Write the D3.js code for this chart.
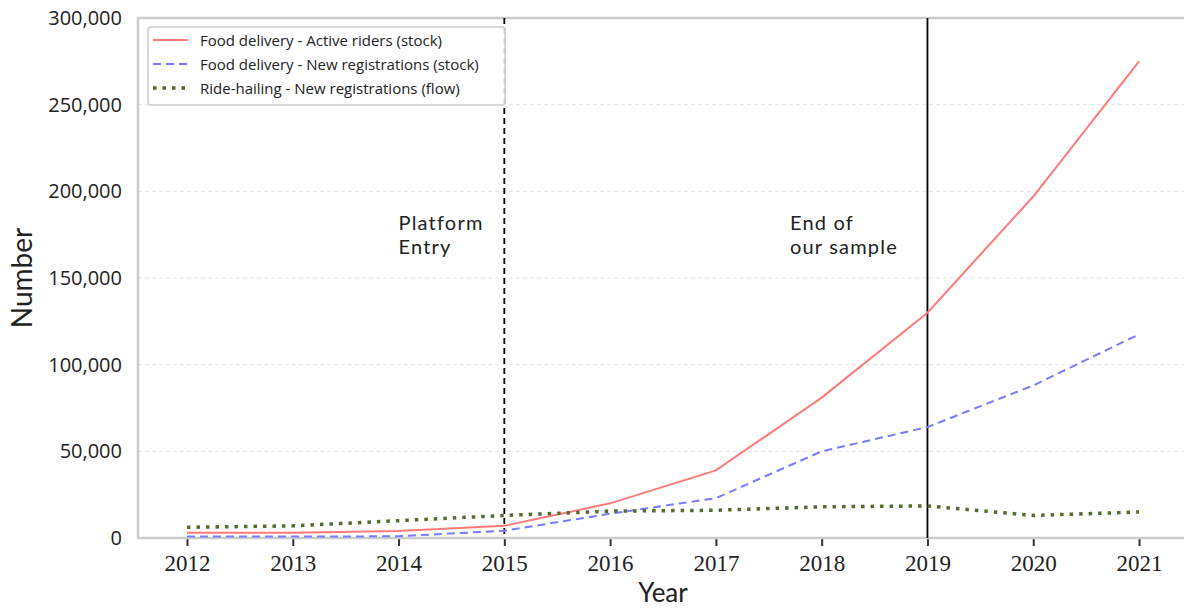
<!DOCTYPE html>
<html><head><meta charset="utf-8">
<script src="https://cdn.jsdelivr.net/npm/d3@7"></script>
<style>body{margin:0;background:#fff}svg{display:block}</style>
</head><body>
<svg id="chart" width="1184" height="609"></svg>
<script>
const years = [2012,2013,2014,2015,2016,2017,2018,2019,2020,2021];
const activeRiders = [3000,3000,4000,7000,20000,39000,81000,130000,197000,275000];
const newRegistrations = [800,800,1000,4200,14000,23000,50000,64000,88000,117500];
const rideHailing = [6200,7000,10000,13000,15500,16000,18000,18500,13000,15000];
const yTicks = [0,50000,100000,150000,200000,250000,300000];
const seriesNames = ["Food delivery - Active riders (stock)","Food delivery - New registrations (stock)","Ride-hailing - New registrations (flow)"];
const markers = [
  {year:2015,label:["Platform","Entry"],labelYear:2014.0,dash:"6,4"},
  {year:2019,label:["End of","our sample"],labelYear:2017.7,dash:null}
];
const labelValue = 175000;

const svg = d3.select("#chart");
const L=138, R=1188, T=18, B=538;
const x = d3.scaleLinear().domain([2011.537,2021.463]).range([L,R]);
const y = d3.scaleLinear().domain([0,300000]).range([B,T]);
const open = "'Open Sans', sans-serif";
const lato = "Lato, sans-serif";
const serif = "'Liberation Serif', 'DejaVu Serif', serif";

// grid
svg.append("g").selectAll("line").data(yTicks.slice(1)).join("line")
  .attr("x1",L).attr("x2",R).attr("y1",d=>y(d)).attr("y2",d=>y(d))
  .attr("stroke","#e3e3e3").attr("stroke-width",1).attr("stroke-dasharray","4,3");

// y axis labels
const yAxis = d3.axisLeft(y).tickValues(yTicks).tickSize(0).tickPadding(16)
  .tickFormat(d3.format(","));
const gy = svg.append("g").attr("transform",`translate(${L},0)`).call(yAxis);
gy.select(".domain").remove();
gy.selectAll("text").attr("font-family",open).attr("font-size",20).attr("fill","#222");

// x axis
const xAxis = d3.axisBottom(x).tickValues(years).tickSize(8).tickPadding(9).tickFormat(d3.format("d"));
const gx = svg.append("g").attr("transform",`translate(0,${B})`).call(xAxis);
gx.select(".domain").remove();
gx.selectAll("line").attr("stroke","#333").attr("stroke-width",2);
gx.selectAll("text").attr("font-family",serif).attr("font-size",23).attr("fill","#222");

// spines
svg.append("path").attr("d",`M${R},${T}H${L}V${B}H${R}`).attr("fill","none")
  .attr("stroke","#cccccc").attr("stroke-width",2.5);

// vertical markers
svg.append("g").selectAll("line").data(markers).join("line")
  .attr("x1",d=>x(d.year)).attr("x2",d=>x(d.year)).attr("y1",T).attr("y2",B)
  .attr("stroke","#000").attr("stroke-width",1.8)
  .attr("stroke-dasharray",d=>d.dash);

// annotations (one text element per line)
markers.forEach(m=>{
  m.label.forEach((s,i)=>{
    svg.append("text").attr("x",x(m.labelYear)).attr("y",y(labelValue)-5+i*24.5)
      .attr("font-family",lato).attr("font-size",20).attr("letter-spacing",1.2)
      .attr("fill","#222").text(s);
  });
});

// lines
const line = vals => d3.line().x((d,i)=>x(years[i])).y(d=>y(d))(vals);
const styles = [
  {data:activeRiders,color:"#ff7b7b",dash:null,w:2},
  {data:newRegistrations,color:"#7b7bff",dash:"8,5",w:2},
  {data:rideHailing,color:"#556b2f",dash:"3.5,6",w:3.5}
];
styles.forEach(s=>{
  svg.append("path").attr("d",line(s.data)).attr("fill","none")
    .attr("stroke",s.color).attr("stroke-width",s.w).attr("stroke-dasharray",s.dash);
});

// legend
const lg = svg.append("g");
lg.append("rect").attr("x",148).attr("y",27).attr("width",357).attr("height",78).attr("rx",3)
  .attr("fill","#fff").attr("fill-opacity",0.85).attr("stroke","#cccccc").attr("stroke-width",1.5);
seriesNames.forEach((n,i)=>{
  const yy = 40 + i*24;
  lg.append("line").attr("x1",153).attr("x2",188).attr("y1",yy).attr("y2",yy)
    .attr("stroke",styles[i].color).attr("stroke-width",styles[i].w).attr("stroke-dasharray",styles[i].dash);
  lg.append("text").attr("x",200).attr("y",yy+5.5).text(n)
    .attr("font-family",open).attr("font-size",15).attr("fill","#222");
});

// axis titles
svg.append("text").attr("x",x(2016.5)).attr("y",602).attr("text-anchor","middle")
  .attr("font-family",lato).attr("font-size",26).attr("fill","#222").text("Year");
svg.append("text").attr("transform",`translate(32,${(T+B)/2}) rotate(-90)`).attr("text-anchor","middle")
  .attr("font-family",lato).attr("font-size",28).attr("fill","#222").text("Number");
</script>
</body></html>
